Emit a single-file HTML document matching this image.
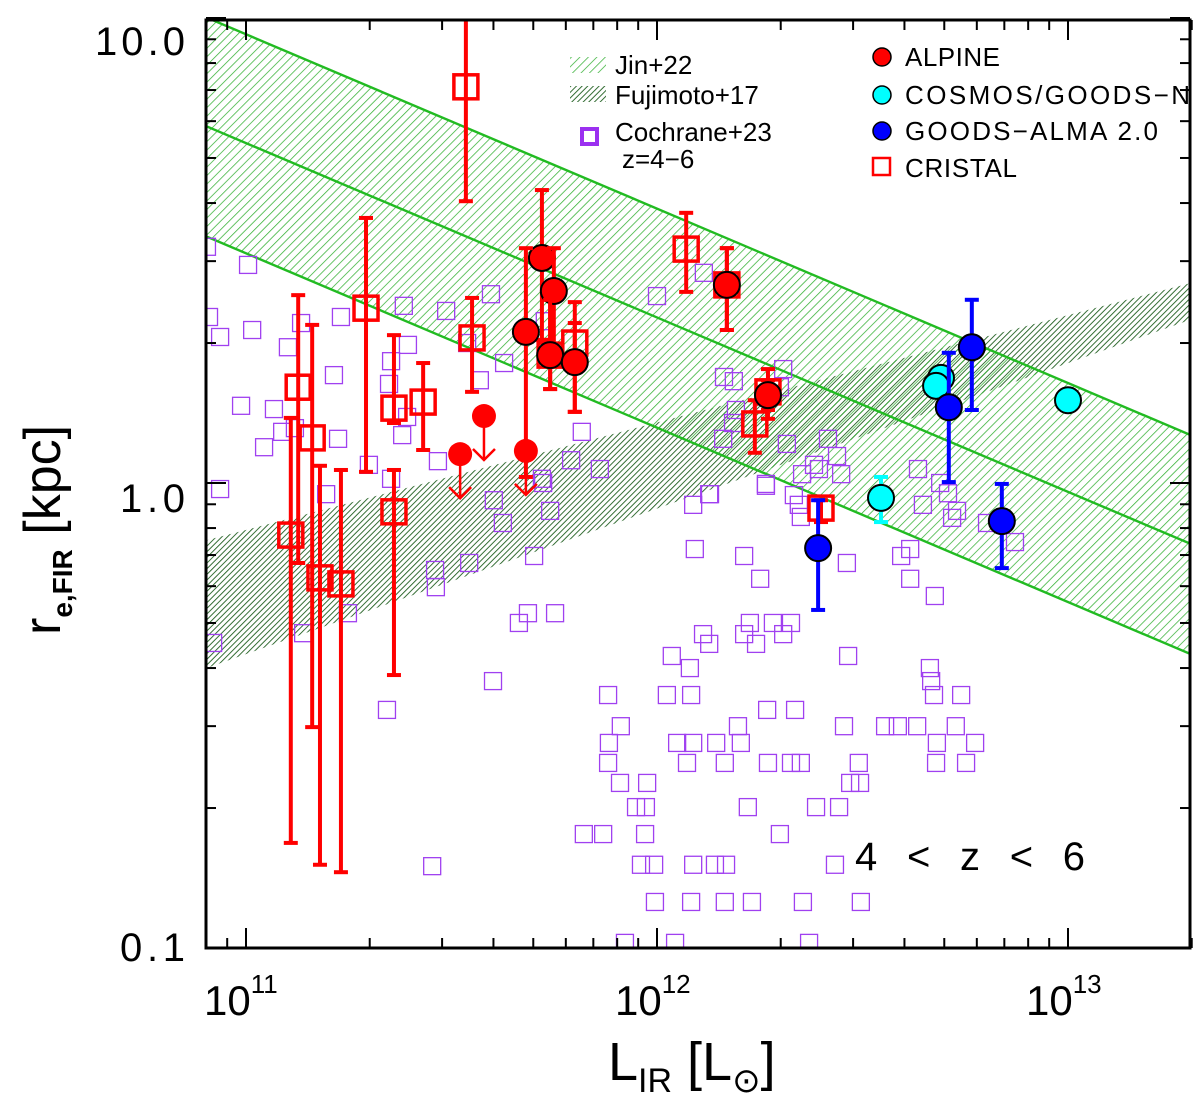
<!DOCTYPE html>
<html><head><meta charset="utf-8"><style>
html,body{margin:0;padding:0;background:#fff;}
svg{display:block;font-family:"Liberation Sans",sans-serif;}
</style></head><body>
<svg id="chart" width="1200" height="1111" viewBox="0 0 1200 1111" xmlns="http://www.w3.org/2000/svg">
<defs>
<pattern id="hatchJin" patternUnits="userSpaceOnUse" width="6" height="6" patternTransform="rotate(45)">
<line x1="0" y1="0" x2="0" y2="6" stroke="#33b033" stroke-width="1.5"/></pattern>
<pattern id="hatchFuji" patternUnits="userSpaceOnUse" width="4" height="4" patternTransform="rotate(45)">
<line x1="0" y1="0" x2="0" y2="4" stroke="#1f5e1f" stroke-width="1.8"/></pattern>
<clipPath id="plotClip"><rect x="206" y="20" width="984" height="928"/></clipPath>
</defs>
<g id="bands" clip-path="url(#plotClip)"></g>
<g id="points" clip-path="url(#plotClip)"></g>
<g id="axes"></g>
<g id="legend">
<rect x="570" y="57" width="36" height="16" fill="url(#hatchJin)"/>
<text x="615" y="74" font-size="26">Jin+22</text>
<rect x="570" y="86" width="36" height="16" fill="url(#hatchFuji)"/>
<text x="615" y="104" font-size="26">Fujimoto+17</text>
<rect x="582" y="129" width="15" height="15" fill="none" stroke="#9b30f0" stroke-width="4"/>
<text x="615" y="141" font-size="26">Cochrane+23</text>
<text x="622" y="168" font-size="26">z=4−6</text>
<circle cx="882" cy="57" r="9" fill="#f00" stroke="#000" stroke-width="1.5"/>
<text x="905" y="66" font-size="26" textLength="95">ALPINE</text>
<circle cx="882" cy="95" r="9" fill="#0ff" stroke="#000" stroke-width="1.5"/>
<text x="905" y="104" font-size="26" textLength="285">COSMOS/GOODS−N</text>
<circle cx="882" cy="131" r="9" fill="#00f" stroke="#000" stroke-width="1.5"/>
<text x="905" y="140" font-size="26" textLength="253">GOODS−ALMA 2.0</text>
<rect x="873" y="158" width="17" height="17" fill="none" stroke="#f00" stroke-width="2.5"/>
<text x="905" y="177" font-size="26" textLength="112">CRISTAL</text>
</g>
<text x="855" y="870" font-size="40" textLength="230">4 &lt; z &lt; 6</text>
</svg>
<script>
// Cochrane+23 (log10 L_IR, log10 r_e)
const cochraneLgL=[11.603,11.625,11.740,11.723,12.088,12.129,12.265,12.333,12.350,12.647,12.708,12.730,12.803,12.871,11.701,12.092,12.212,12.251,12.462,12.594,12.616,12.616,12.676,11.686,11.752,11.664,12.112,12.127,12.226,12.282,12.326,12.212,12.241,12.307,12.036,12.080,12.465,12.664,12.667,11.601,11.881,12.024,12.083,12.674,12.740,12.268,12.336,11.912,12.197,12.455,12.555,12.586,12.633,12.727,11.883,12.049,12.088,12.144,12.204,12.681,12.774,11.881,12.073,12.165,12.270,12.326,12.350,12.491,12.679,12.752,11.910,11.976,12.470,12.494,11.949,11.973,12.221,12.387,12.443,11.822,11.869,11.971,12.299,11.961,11.993,12.088,12.141,12.168,12.433,11.995,12.083,12.165,12.231,12.355,12.496,11.922,12.044,12.370,12.114,12.000,12.163,12.187,12.307,12.299,12.192,12.185,12.161,12.316,12.416,12.438,12.382,12.394,12.353,12.448,12.265,12.127,12.345,12.635,12.689,12.718,11.005,10.905,10.910,10.937,11.015,11.102,11.134,11.231,11.384,11.487,11.596,11.538,11.394,11.353,11.214,11.348,11.569,11.628,11.727,11.817,11.791,11.861,11.720,11.543,11.460,11.462,11.392,11.380,11.299,11.353,11.467,11.195,11.224,11.119,11.088,11.044,11.068,10.988,10.937,11.248,11.139,10.920,11.343,11.453];
const cochraneLgR=[-0.037,-0.086,-0.060,0.000,-0.047,-0.024,-0.006,-0.026,-0.073,-0.047,-0.022,-0.060,-0.086,-0.127,-0.157,-0.142,-0.157,-0.206,-0.172,-0.157,-0.142,-0.206,-0.243,-0.280,-0.280,-0.301,-0.325,-0.346,-0.301,-0.301,-0.301,-0.325,-0.346,-0.325,-0.372,-0.398,-0.372,-0.398,-0.426,-0.426,-0.456,-0.456,-0.456,-0.456,-0.456,-0.488,-0.488,-0.523,-0.523,-0.523,-0.523,-0.523,-0.523,-0.523,-0.559,-0.559,-0.559,-0.559,-0.559,-0.559,-0.559,-0.602,-0.602,-0.602,-0.602,-0.602,-0.602,-0.602,-0.602,-0.602,-0.645,-0.645,-0.645,-0.645,-0.697,-0.697,-0.697,-0.697,-0.697,-0.755,-0.755,-0.755,-0.755,-0.821,-0.821,-0.821,-0.821,-0.821,-0.821,-0.901,-0.901,-0.901,-0.901,-0.901,-0.901,-0.989,-0.989,-0.989,0.452,0.402,0.228,0.219,0.245,0.206,0.157,0.129,0.095,0.084,0.095,0.058,0.039,0.030,0.019,0.019,-0.002,-0.024,-0.047,0.030,0.000,-0.075,0.469,0.508,0.357,0.314,0.329,0.292,0.344,0.357,0.381,0.370,0.406,0.301,0.297,0.262,0.232,0.213,0.221,0.258,0.348,0.110,0.049,0.030,0.009,-0.172,-0.187,-0.224,0.142,0.103,0.039,0.009,0.047,-0.024,0.095,0.118,0.110,0.077,0.159,0.166,-0.013,-0.280,-0.323,-0.344,-0.488,-0.824];
// CRISTAL
const cristalLgL=[11.535,11.292,11.550,11.127,11.161,11.109,11.180,11.231,11.360,11.360,11.431,11.740,11.800,12.071,12.170,12.270,12.238,12.399];
const cristalLgR=[0.852,0.376,0.312,0.206,0.097,-0.112,-0.204,-0.217,0.161,-0.062,0.174,0.275,0.301,0.503,0.426,0.196,0.127,-0.054];
const cristalHi=[1.146,0.570,0.398,0.404,0.340,0.140,0.037,0.028,0.318,0.028,0.258,0.394,0.344,0.581,0.505,0.245,0.178,-0.037];
const cristalLo=[0.606,0.024,0.196,-0.172,-0.525,-0.774,-0.821,-0.837,0.129,-0.413,0.071,0.202,0.153,0.411,0.329,0.138,0.065,-0.084];
// ALPINE
const alpineLgL=[11.720,11.749,11.681,11.740,11.800,12.170,12.270];
const alpineLgR=[0.484,0.413,0.325,0.275,0.260,0.426,0.189];
const alpineHi=[0.630,0.505,0.505,0.394,0.389,0.505,0.221];
const alpineLo=[0.308,0.265,0.013,0.202,0.153,0.329,0.157];
const alpineLimLgL=[11.521,11.579,11.681];
const alpineLimLgR=[0.062,0.144,0.069];
// COSMOS/GOODS-N
const cosmosLgL=[12.691,12.679,12.545,13.000];
const cosmosLgR=[0.226,0.209,-0.032,0.178];
const cosmosHi=[0.226,0.209,0.013,0.178];
const cosmosLo=[0.226,0.209,-0.084,0.178];
// GOODS-ALMA 2.0
const gaLgL=[12.392,12.710,12.766,12.839];
const gaLgR=[-0.140,0.163,0.292,-0.082];
const gaHi=[-0.037,0.280,0.394,-0.002];
const gaLo=[-0.273,0.002,0.157,-0.183];
// relations: lgR = c + s*(lgL-12)
const jinSlope=[-0.375,-0.375,-0.375];
const jinIntercept=[0.590,0.356,0.119];
const fujiSlope=[0.231,0.313];
const fujiIntercept=[0.130,-0.055];
const xTickLabels=["11","12","13"];
const yTickLabels=["10.0","1.0","0.1"];

const NS="http://www.w3.org/2000/svg";
const X=lg=>246+(lg-11)*411;
const Y=lr=>483-lr*465;
const XMIN=Math.log10(8e10), XMAX=Math.log10(2e13);
function mk(tag,attrs,parent){const e=document.createElementNS(NS,tag);for(const k in attrs)e.setAttribute(k,attrs[k]);parent.appendChild(e);return e;}
const bands=document.getElementById('bands');
const pts=document.getElementById('points');
const axes=document.getElementById('axes');
const line=(c,s,lg)=>c+s*(lg-12);
{const a=XMIN-0.05,b=XMAX+0.05;
const d=`M${X(a)},${Y(line(fujiIntercept[0],fujiSlope[0],a))} L${X(b)},${Y(line(fujiIntercept[0],fujiSlope[0],b))} L${X(b)},${Y(line(fujiIntercept[1],fujiSlope[1],b))} L${X(a)},${Y(line(fujiIntercept[1],fujiSlope[1],a))} Z`;
const p=mk('path',{d:d,fill:'url(#hatchFuji)'},bands);


const d2=`M${X(a)},${Y(line(jinIntercept[0],jinSlope[0],a))} L${X(b)},${Y(line(jinIntercept[0],jinSlope[0],b))} L${X(b)},${Y(line(jinIntercept[2],jinSlope[2],b))} L${X(a)},${Y(line(jinIntercept[2],jinSlope[2],a))} Z`;
const p2=mk('path',{d:d2,fill:'url(#hatchJin)'},bands);


for(let i=0;i<3;i++){const l=mk('line',{x1:X(a),y1:Y(line(jinIntercept[i],jinSlope[i],a)),x2:X(b),y2:Y(line(jinIntercept[i],jinSlope[i],b)),stroke:'#22bb22','stroke-width':2.4},bands);

}
}
for(let i=0;i<cochraneLgL.length;i++){
const r=mk('rect',{x:X(cochraneLgL[i])-8.5,y:Y(cochraneLgR[i])-8.5,width:17,height:17,fill:'none',stroke:'#a040f0','stroke-width':1.3},pts);

}
function errbar(lg,hi,lo,col,w,name){
const x=X(lg),g=mk('g',{},pts);


mk('line',{x1:x,y1:Y(hi),x2:x,y2:Y(lo),stroke:col,'stroke-width':w},g);
mk('line',{x1:x-7,y1:Y(hi),x2:x+7,y2:Y(hi),stroke:col,'stroke-width':w},g);
mk('line',{x1:x-7,y1:Y(lo),x2:x+7,y2:Y(lo),stroke:col,'stroke-width':w},g);}
for(let i=0;i<cristalLgL.length;i++){
errbar(cristalLgL[i],cristalHi[i],cristalLo[i],'#f00',4,'cristal-errorbar');
const r=mk('rect',{x:X(cristalLgL[i])-12,y:Y(cristalLgR[i])-12,width:24,height:24,fill:'none',stroke:'#f00','stroke-width':3.5},pts);

}
for(let i=0;i<alpineLgL.length;i++){
errbar(alpineLgL[i],alpineHi[i],alpineLo[i],'#f00',4,'alpine-errorbar');
const c=mk('circle',{cx:X(alpineLgL[i]),cy:Y(alpineLgR[i]),r:13,fill:'#f00',stroke:'#000','stroke-width':2},pts);

}
for(let i=0;i<alpineLimLgL.length;i++){
const x=X(alpineLimLgL[i]),y=Y(alpineLimLgR[i]);
const g=mk('g',{},pts);


mk('line',{x1:x,y1:y,x2:x,y2:y+44,stroke:'#f00','stroke-width':2.5},g);
mk('polyline',{points:`${x-11},${y+33} ${x},${y+44} ${x+11},${y+33}`,fill:'none',stroke:'#f00','stroke-width':2.5},g);
mk('circle',{cx:x,cy:y,r:12,fill:'#f00'},g);}
for(let i=0;i<cosmosLgL.length;i++){
if(cosmosHi[i]!==cosmosLo[i]) errbar(cosmosLgL[i],cosmosHi[i],cosmosLo[i],'#0ff',4,'cosmos-errorbar');
const c=mk('circle',{cx:X(cosmosLgL[i]),cy:Y(cosmosLgR[i]),r:13,fill:'#0ff',stroke:'#000','stroke-width':2},pts);

}
for(let i=0;i<gaLgL.length;i++){
errbar(gaLgL[i],gaHi[i],gaLo[i],'#00f',4,'goods-alma-errorbar');
const c=mk('circle',{cx:X(gaLgL[i]),cy:Y(gaLgR[i]),r:13,fill:'#00f',stroke:'#000','stroke-width':2},pts);

}
{const f=mk('rect',{x:206,y:20,width:984,height:928,fill:'none',stroke:'#000','stroke-width':3},axes);


for(let d=10;d<=13;d++){for(let m=1;m<=9;m++){const lg=d+Math.log10(m);if(lg<XMIN||lg>XMAX)continue;const x=X(lg),L=m===1?20:10;
mk('line',{x1:x,y1:948,x2:x,y2:948-L,stroke:'#000','stroke-width':2},axes);
mk('line',{x1:x,y1:20,x2:x,y2:20+L,stroke:'#000','stroke-width':2},axes);}}
for(let d=-1;d<=0;d++){for(let m=1;m<=10;m++){const lr=d+Math.log10(m);const y=Y(lr),L=(m===1||m===10)?20:10;
mk('line',{x1:206,y1:y,x2:206+L,y2:y,stroke:'#000','stroke-width':2},axes);
mk('line',{x1:1190,y1:y,x2:1190-L,y2:y,stroke:'#000','stroke-width':2},axes);}}
for(let i=0;i<xTickLabels.length;i++){const x=X(11+i);
const t=mk('text',{x:x-42,y:1015,'font-size':42},axes);


t.textContent='10';
const s=mk('tspan',{dy:-22,'font-size':26},t);s.textContent=xTickLabels[i];}
const yPos=[40,497,946];
const yLen=[90,65,65];
for(let i=0;i<yTickLabels.length;i++){
const t=mk('text',{x:185-yLen[i],y:yPos[i]+15,'font-size':40,textLength:yLen[i]},axes);


t.textContent=yTickLabels[i];}
const xt=mk('text',{x:608,y:1080,'font-size':54},axes);


xt.innerHTML='L<tspan dy="12" font-size="34">IR</tspan><tspan dy="-12"> [L</tspan><tspan dy="12" font-size="34">⊙</tspan><tspan dy="-12">]</tspan>';
const yt=mk('text',{x:0,y:0,'font-size':52,transform:'translate(60,635) rotate(-90)'},axes);


yt.innerHTML='r<tspan dy="12" font-size="28" font-weight="bold">e,FIR</tspan><tspan dy="-12"> [kpc]</tspan>';
}
</script>
</body></html>
